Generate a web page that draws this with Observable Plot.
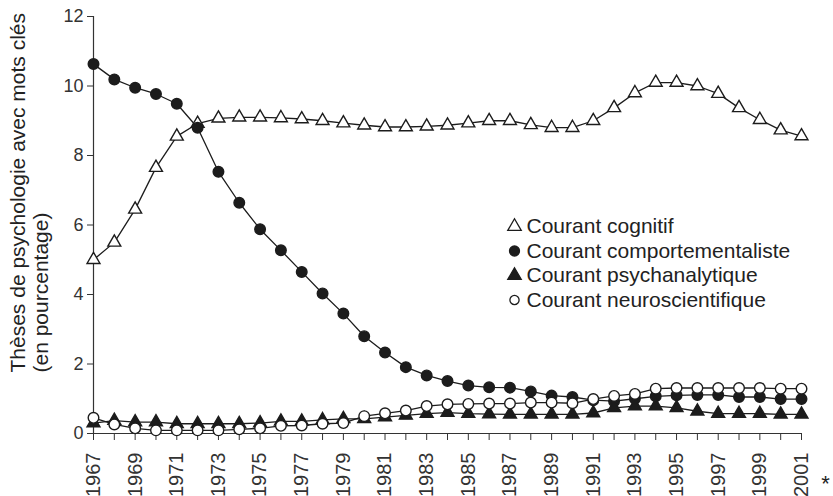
<!DOCTYPE html>
<html>
<head>
<meta charset="utf-8">
<script src="https://cdn.jsdelivr.net/npm/d3@7"></script>
<script src="https://cdn.jsdelivr.net/npm/@observablehq/plot@0.6"></script>
<style>
  html, body { margin: 0; padding: 0; background: #fff; }
  #chart { position: relative; width: 833px; height: 496px; }
</style>
</head>
<body>
<div id="chart"></div>
<script>
// ---- data ----
const years = [1967,1968,1969,1970,1971,1972,1973,1974,1975,1976,1977,1978,1979,1980,1981,1982,1983,1984,1985,1986,1987,1988,1989,1990,1991,1992,1993,1994,1995,1996,1997,1998,1999,2000,2001];
const cognitif = [5.0,5.5,6.45,7.65,8.55,8.92,9.07,9.1,9.1,9.08,9.05,9.0,8.93,8.87,8.82,8.82,8.84,8.87,8.93,9.0,9.0,8.88,8.8,8.8,9.0,9.37,9.8,10.1,10.1,10.0,9.78,9.37,9.03,8.73,8.56];
const comportementaliste = [10.63,10.19,9.95,9.77,9.49,8.8,7.53,6.64,5.88,5.27,4.65,4.03,3.45,2.8,2.33,1.91,1.67,1.51,1.38,1.33,1.32,1.21,1.09,1.05,0.96,0.93,1.0,1.07,1.1,1.11,1.11,1.05,1.05,0.99,0.99];
const psychanalytique = [0.3,0.37,0.33,0.33,0.28,0.28,0.28,0.28,0.3,0.35,0.35,0.39,0.42,0.42,0.47,0.52,0.57,0.6,0.57,0.56,0.55,0.55,0.55,0.55,0.59,0.74,0.79,0.79,0.74,0.64,0.57,0.57,0.57,0.55,0.55];
const neuroscientifique = [0.45,0.26,0.15,0.09,0.09,0.09,0.09,0.12,0.15,0.22,0.23,0.28,0.3,0.5,0.58,0.66,0.79,0.84,0.85,0.86,0.86,0.89,0.89,0.87,0.99,1.08,1.14,1.29,1.31,1.31,1.31,1.31,1.31,1.29,1.29];
const seriesNames = ["Courant cognitif","Courant comportementaliste","Courant psychanalytique","Courant neuroscientifique"];
const yTicks = [0,2,4,6,8,10,12];
const xLabelYears = [1967,1969,1971,1973,1975,1977,1979,1981,1983,1985,1987,1989,1991,1993,1995,1997,1999,2001];
const yLabelLines = ["Thèses de psychologie avec mots clés","(en pourcentage)"];
const footnote = "*";

// ---- build ----
const ink = "#1c1c1c";
const seriesValues = [cognitif, comportementaliste, psychanalytique, neuroscientifique];
const symbols = ["triangle","circle","triangle","circle"];
const fills = ["white", ink, ink, "white"];
const radii = [4.8, 5.3, 4.8, 5.3];

const rows = [];
seriesNames.forEach((s, i) => years.forEach((yr, j) => rows.push({series: s, year: yr, value: seriesValues[i][j]})));

const marks = [];
// axis lines
marks.push(Plot.ruleX([years[0]], {stroke: "#333", strokeWidth: 1.2}));
marks.push(Plot.ruleY([0], {stroke: "#333", strokeWidth: 1.2}));
marks.push(Plot.axisY(yTicks, {tickSize: 6, tickPadding: 4, fontSize: 18, label: null}));
marks.push(Plot.axisX(years, {tickSize: 7, tickPadding: 12, tickRotate: -90, fontSize: 20, label: null,
  tickFormat: d => xLabelYears.includes(d) ? String(d) : ""}));
// lines
seriesNames.forEach((s) => {
  marks.push(Plot.line(rows.filter(r => r.series === s), {x: "year", y: "value", stroke: ink, strokeWidth: 1.3}));
});
// dots
seriesNames.forEach((s, i) => {
  marks.push(Plot.dot(rows.filter(r => r.series === s), {x: "year", y: "value", symbol: () => symbols[i],
    r: radii[i], fill: fills[i], stroke: ink, strokeWidth: 1.4}));
});
// legend
seriesNames.forEach((s, i) => {
  marks.push(Plot.dot([s], {frameAnchor: "top-left", dx: 421, dy: 210 + i * 24.5, symbol: () => symbols[i],
    r: i === 3 ? 4.6 : 5.0, fill: fills[i], stroke: ink, strokeWidth: 1.3}));
  marks.push(Plot.text([s], {frameAnchor: "top-left", dx: 433, dy: 210 + i * 24.5, text: d => d,
    textAnchor: "start", lineAnchor: "middle", fontSize: 21, fill: "#222"}));
});
// y label (two lines, start-aligned at bottom)
marks.push(Plot.text([yLabelLines[0]], {frameAnchor: "bottom-left", dx: -75, dy: -61, rotate: -90, text: d => d,
  textAnchor: "start", lineAnchor: "middle", fontSize: 21, fill: "#222"}));
marks.push(Plot.text([yLabelLines[1]], {frameAnchor: "bottom-left", dx: -52, dy: -61, rotate: -90, text: d => d,
  textAnchor: "start", lineAnchor: "middle", fontSize: 21, fill: "#222"}));
// footnote asterisk
marks.push(Plot.text([footnote], {frameAnchor: "bottom-right", dx: 24, dy: 50, text: d => d,
  textAnchor: "middle", lineAnchor: "middle", fontSize: 22, fill: "#222"}));

const chart = Plot.plot({
  width: 833,
  height: 496,
  marginLeft: 93,
  marginRight: 32,
  marginTop: 16,
  marginBottom: 63,
  x: {domain: [1967, 2001], axis: null},
  y: {domain: [0, 12], axis: null},
  style: {fontFamily: "'Liberation Sans', Arial, Helvetica, sans-serif", background: "white", color: "#333"},
  marks
});
document.getElementById("chart").appendChild(chart);
</script>
</body>
</html>
